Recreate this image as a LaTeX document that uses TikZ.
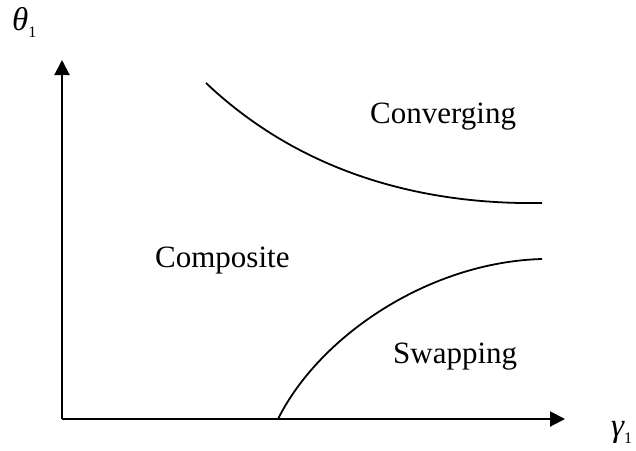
\documentclass[tikz,border=0pt]{standalone}
\usepackage{fontspec}
\setmainfont{Liberation Serif}
\usetikzlibrary{arrows.meta}
\tikzset{
  axis/.style={line width=2pt,-{Triangle[length=15pt,width=15pt]}},
  boundary/.style={line width=1.8pt},
  region/.style={anchor=base west,inner sep=0pt,font=\fontsize{31}{36}\selectfont},
  axlabel/.style={anchor=base west,inner sep=0pt,font=\fontsize{33}{38}\selectfont\itshape}
}
\newcommand{\subone}{\raisebox{-7pt}{\fontsize{16}{18}\selectfont\upshape 1}}
\begin{document}
\begin{tikzpicture}[x=1pt,y=-1pt]
\useasboundingbox (0,0) rectangle (636,450);
\coordinate (O) at (62,419);
\coordinate (ytip) at (62,60);
\coordinate (xtip) at (565,419);
\draw[axis] (O) -- (ytip);
\draw[axis] (O) -- (xtip);
\node[axlabel] (theta) at (12,30) {θ\subone};
\node[axlabel] (gamma) at (611,436) {γ\subone};
\coordinate (u0) at (206,83);
\coordinate (u1) at (542,203);
\coordinate (l0) at (278,419);
\coordinate (l1) at (542,259);
\draw[boundary] (u0) .. controls (300,172) and (420,205) .. (u1);
\draw[boundary] (l0) .. controls (320,335) and (430,262) .. (l1);
\node[region] (conv) at (370,123) {Converging};
\node[region] (comp) at (155,267) {Composite};
\node[region] (swap) at (393,363) {Swapping};
\end{tikzpicture}
\end{document}
